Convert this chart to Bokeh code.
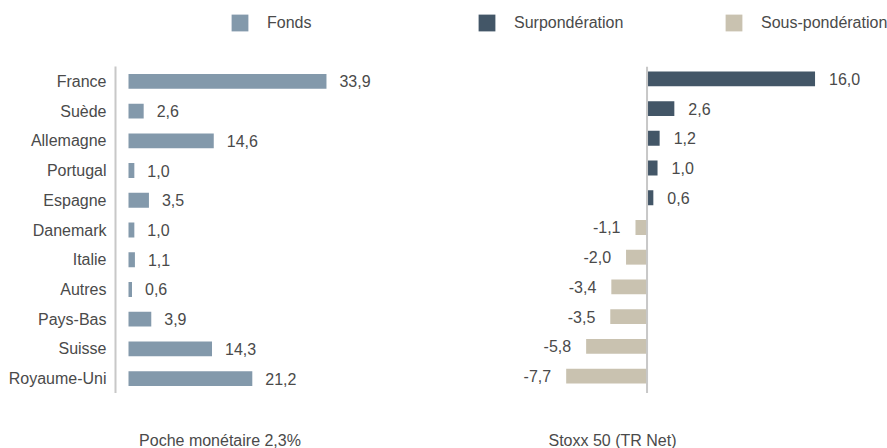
from bokeh.plotting import figure
from bokeh.layouts import column
from bokeh.models import FactorRange, Range1d, Span, Legend, LegendItem, Label, ColumnDataSource
from bokeh.transform import dodge
from bokeh.core.properties import value
from bokeh.embed import file_html
from bokeh.resources import INLINE

# ---- data ----
countries = ["France", "Suède", "Allemagne", "Portugal", "Espagne", "Danemark",
             "Italie", "Autres", "Pays-Bas", "Suisse", "Royaume-Uni"]
fonds = [33.9, 2.6, 14.6, 1.0, 3.5, 1.0, 1.1, 0.6, 3.9, 14.3, 21.2]

stoxx_rows = ["r1", "r2", "r3", "r4", "r5", "r6", "r7", "r8", "r9", "r10", "r11"]
stoxx = [16.0, 2.6, 1.2, 1.0, 0.6, -1.1, -2.0, -3.4, -3.5, -5.8, -7.7]

legend_labels = ["Fonds", "Surpondération", "Sous-pondération"]
panel_titles = ["Poche monétaire 2,3%", "Stoxx 50 (TR Net)"]


def fmt(v):
    return f"{v:.1f}".replace(".", ",")


FONT = "Liberation Sans"
TXT = "#4a4a4a"
C_FONDS = "#8399ab"
C_OVER = "#435667"
C_UNDER = "#c9c2b0"
AXIS = "#c8c8c8"
FS = "16px"
W = 887


def bare(fig):
    fig.grid.visible = False
    fig.outline_line_color = None
    fig.xaxis.visible = False
    fig.yaxis.visible = False
    return fig


# ---- sources ----
src_f = ColumnDataSource(dict(cat=countries, val=fonds, lab=[fmt(v) for v in fonds]))
pos = [(r, v) for r, v in zip(stoxx_rows, stoxx) if v >= 0]
neg = [(r, v) for r, v in zip(stoxx_rows, stoxx) if v < 0]
src_p = ColumnDataSource(dict(row=[a for a, _ in pos], val=[b for _, b in pos],
                              lab=[fmt(b) for _, b in pos]))
src_n = ColumnDataSource(dict(row=[a for a, _ in neg], val=[b for _, b in neg],
                              lab=[fmt(b) for _, b in neg]))

# ---- legend strip (its frame is aligned with the chart frame by the column) ----
top = bare(figure(width=W, height=66, output_backend="svg", toolbar_location=None,
                  x_range=Range1d(100, 101), y_range=Range1d(100, 101),
                  min_border_left=0, min_border_right=0, min_border_top=0,
                  min_border_bottom=0))
# zero-height, out-of-range copies of the series: they only feed the legend swatches
lr = [top.hbar(y="val", right="val", left=0, height=0, source=s,
               fill_color=c, line_color=None)
      for s, c in ((src_f, C_FONDS), (src_p, C_OVER), (src_n, C_UNDER))]
legend = Legend(items=[LegendItem(label=t, renderers=[r]) for t, r in zip(legend_labels, lr)],
                orientation="horizontal", location=(114, 33),
                glyph_width=21, glyph_height=21, label_standoff=17,
                label_width=209, label_height=21, spacing=0, padding=0, margin=0,
                border_line_color=None, background_fill_alpha=0,
                label_text_font=FONT, label_text_font_size=FS,
                label_text_color=TXT)
top.add_layout(legend)

# ---- main chart ----
p = figure(width=W, height=327, output_backend="svg", toolbar_location=None,
           x_range=Range1d(-2.226, 129.97),
           y_range=FactorRange(factors=countries[::-1]),
           min_border_left=115, min_border_right=0, min_border_top=0,
           min_border_bottom=0)
p.extra_x_ranges = {"stoxx": Range1d(-50.62, 22.90)}
p.extra_y_ranges = {"rows": FactorRange(factors=stoxx_rows[::-1])}

p.grid.visible = False
p.outline_line_color = None
p.xaxis.visible = False
p.yaxis.major_tick_line_color = None
p.yaxis.minor_tick_line_color = None
p.yaxis.major_tick_out = 0
p.yaxis.major_tick_in = 0
p.yaxis.axis_line_color = AXIS
p.yaxis.axis_line_width = 2
p.yaxis.major_label_standoff = 9
p.yaxis.major_label_text_font = FONT
p.yaxis.major_label_text_font_size = FS
p.yaxis.major_label_text_color = TXT

# left panel: Fonds
p.hbar(y="cat", right="val", left=0, height=0.5, source=src_f,
       fill_color=C_FONDS, line_color=None)
p.text(x="val", y="cat", text="lab", source=src_f, x_offset=13,
       text_align="left", text_baseline="middle", text_font=value(FONT),
       text_font_size=FS, text_color=TXT)

# right panel: Stoxx 50 over / under weights
yrows = p.extra_y_ranges["rows"]
ydodge = dodge("row", 0.085, range=yrows)

p.hbar(y=ydodge, right="val", left=0, height=0.5, source=src_p,
       fill_color=C_OVER, line_color=None, x_range_name="stoxx", y_range_name="rows")
p.hbar(y=ydodge, right="val", left=0, height=0.5, source=src_n,
       fill_color=C_UNDER, line_color=None, x_range_name="stoxx", y_range_name="rows")
p.text(x="val", y=ydodge, text="lab", source=src_p,
       x_offset=14, text_align="left", text_baseline="middle",
       text_font=value(FONT), text_font_size=FS, text_color=TXT,
       x_range_name="stoxx", y_range_name="rows")
p.text(x="val", y=ydodge, text="lab", source=src_n,
       x_offset=-15, text_align="right", text_baseline="middle",
       text_font=value(FONT), text_font_size=FS, text_color=TXT,
       x_range_name="stoxx", y_range_name="rows")

p.add_layout(Span(location=0, dimension="height", x_range_name="stoxx",
                  line_color=AXIS, line_width=2))

# ---- panel titles strip ----
bot = bare(figure(width=W, height=55, output_backend="svg", toolbar_location=None,
                  x_range=Range1d(0, 1), y_range=Range1d(0, 1),
                  min_border_left=0, min_border_right=0, min_border_top=0,
                  min_border_bottom=0))
for txt, xs in zip(panel_titles, [104.5, 497]):
    bot.add_layout(Label(x=xs, y=8, x_units="screen", y_units="screen", text=txt,
                         text_align="center", text_baseline="middle",
                         text_font=FONT, text_font_size=FS, text_color=TXT))

layout = column(top, p, bot, spacing=0)
open("out.html", "w").write(file_html(layout, INLINE))
